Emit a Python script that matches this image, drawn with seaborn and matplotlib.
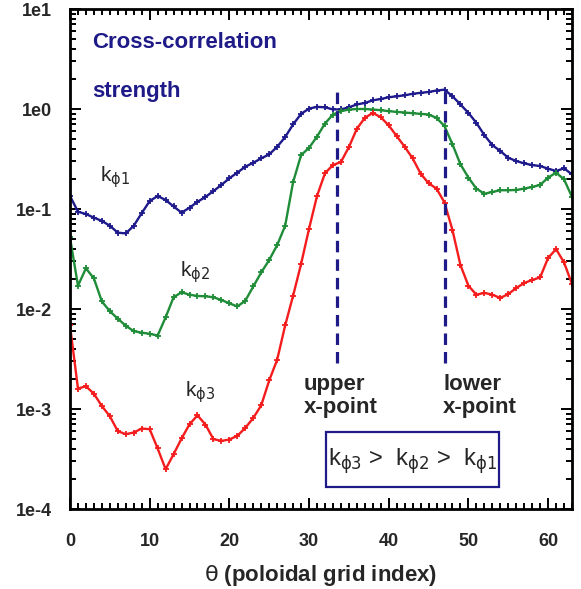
import numpy as np
import pandas as pd
import matplotlib
matplotlib.use("Agg")
import matplotlib.pyplot as plt
from matplotlib.patches import Rectangle
from matplotlib.ticker import LogLocator, FuncFormatter, MultipleLocator
import seaborn as sns

theta = list(range(64))

k_phi1 = [0.135, 0.094, 0.089, 0.082, 0.076, 0.068, 0.058, 0.057, 0.068, 0.091,
          0.12, 0.135, 0.123, 0.106, 0.092, 0.103, 0.118, 0.132, 0.151, 0.174,
          0.203, 0.231, 0.265, 0.290, 0.321, 0.352, 0.419, 0.524, 0.701, 0.894,
          1.01, 1.05, 1.04, 0.99, 0.99, 1.04, 1.11, 1.15, 1.22, 1.26,
          1.31, 1.34, 1.37, 1.42, 1.45, 1.48, 1.53, 1.56, 1.34, 1.11,
          0.914, 0.727, 0.548, 0.436, 0.380, 0.325, 0.302, 0.286, 0.275, 0.269,
          0.253, 0.240, 0.255, 0.222]

k_phi2 = [0.0519, 0.0171, 0.0255, 0.0202, 0.0119, 0.0095, 0.0080, 0.0068, 0.0060, 0.0058,
          0.00565, 0.00543, 0.00826, 0.0131, 0.0147, 0.0139, 0.0135, 0.0134, 0.0131, 0.0123,
          0.0114, 0.0106, 0.0121, 0.0168, 0.0232, 0.0309, 0.0436, 0.0679, 0.186, 0.346,
          0.409, 0.53, 0.716, 0.881, 0.951, 0.988, 1.0, 1.0, 0.988, 0.973,
          0.951, 0.936, 0.922, 0.908, 0.894, 0.881, 0.815, 0.674, 0.443, 0.280,
          0.206, 0.160, 0.142, 0.148, 0.154, 0.154, 0.155, 0.160, 0.166, 0.174,
          0.206, 0.231, 0.198, 0.132]

k_phi3 = [0.00684, 0.00160, 0.00169, 0.00142, 0.00107, 0.000846, 0.000600, 0.000560, 0.000582, 0.000638,
          0.000628, 0.000403, 0.000250, 0.000353, 0.000507, 0.000703, 0.000865, 0.000698, 0.000499, 0.000480,
          0.000495, 0.000539, 0.000647, 0.000813, 0.00109, 0.00193, 0.00311, 0.00684, 0.0136, 0.0282,
          0.0635, 0.135, 0.228, 0.275, 0.295, 0.416, 0.634, 0.815, 0.914, 0.828,
          0.685, 0.536, 0.419, 0.321, 0.226, 0.181, 0.160, 0.116, 0.0615, 0.0275,
          0.0171, 0.0139, 0.0145, 0.0139, 0.0129, 0.0141, 0.0162, 0.0182, 0.0195, 0.0207,
          0.0324, 0.0397, 0.0292, 0.0178]

series_names = ["k1", "k2", "k3"]
xpoint_positions = [33.5, 47]
y_tick_values = [1e-4, 1e-3, 1e-2, 1e-1, 1e0, 1e1]
x_tick_values = [0, 10, 20, 30, 40, 50, 60]

df = pd.DataFrame({
    "theta": theta * 3,
    "value": k_phi1 + k_phi2 + k_phi3,
    "series": [n for n in series_names for _ in theta],
})

sns.set_style("ticks")
plt.rcParams["font.family"] = ["Liberation Sans", "DejaVu Sans"]

NAVY = "#1e1a88"
palette = {"k1": "#1e1a8c", "k2": "#1f8c38", "k3": "#f41c1c"}

fig = plt.figure(figsize=(5.81, 5.89), dpi=100)
ax = fig.add_axes([70 / 581, 1 - 509 / 589, 502 / 581, 500 / 589])

sns.lineplot(data=df, x="theta", y="value", hue="series", hue_order=series_names,
             palette=palette, marker="+", markersize=4, linewidth=1.7,
             legend=False, ax=ax)
for line in ax.lines:
    line.set_markeredgecolor(line.get_color())
    line.set_markeredgewidth(1.3)

ax.set_yscale("log")
ax.set_xlim(0, 63)
ax.set_ylim(1e-4, 1e1)

ax.vlines(xpoint_positions, 0.00286, 1.69, colors=NAVY, linewidth=2.3,
          linestyles=(0, (3.6, 2.2)))

# ticks
ax.xaxis.set_minor_locator(MultipleLocator(1))
ax.set_xticks(x_tick_values)
ax.yaxis.set_minor_locator(LogLocator(base=10, subs=np.arange(2, 10)))
ax.set_yticks(y_tick_values)
ax.yaxis.set_major_formatter(FuncFormatter(lambda v, p: f"1e{int(round(np.log10(v)))}"))
ax.tick_params(which="both", direction="in", top=True, right=True, width=1.4, color="black")
ax.tick_params(which="major", length=8)
ax.tick_params(which="minor", length=4)
ax.tick_params(axis="x", which="major", pad=17, labelsize=13)
ax.tick_params(axis="y", which="major", pad=13, labelsize=13)
for lab in ax.get_xticklabels() + ax.get_yticklabels():
    lab.set_fontweight("bold")
for s in ax.spines.values():
    s.set_linewidth(2)
    s.set_color("black")

ax.set_xlabel(r"$\mathrm{\theta}$ (poloidal grid index)", fontsize=16, fontweight="bold", labelpad=10)
ax.set_ylabel("")

# annotations
ax.text(0.044, 0.932, "Cross-correlation", transform=ax.transAxes, color=NAVY,
        fontsize=16, fontweight="bold", va="center", ha="left")
ax.text(0.044, 0.834, "strength", transform=ax.transAxes, color=NAVY,
        fontsize=16, fontweight="bold", va="center", ha="left")

ax.text(0.059, 0.656, r"k$_{\mathrm{\phi 1}}$", transform=ax.transAxes, fontsize=15, va="baseline")
ax.text(0.219, 0.4646, r"k$_{\mathrm{\phi 2}}$", transform=ax.transAxes, fontsize=15, va="baseline")
ax.text(0.230, 0.226, r"k$_{\mathrm{\phi 3}}$", transform=ax.transAxes, fontsize=15, va="baseline")

for xf in (0.466, 0.7436):
    pass
ax.text(0.466, 0.238, "upper", transform=ax.transAxes, fontsize=16,
        fontweight="bold", va="baseline", ha="left")
ax.text(0.466, 0.192, "x-point", transform=ax.transAxes, fontsize=16,
        fontweight="bold", va="baseline", ha="left")
ax.text(0.7436, 0.238, "lower", transform=ax.transAxes, fontsize=16,
        fontweight="bold", va="baseline", ha="left")
ax.text(0.7436, 0.192, "x-point", transform=ax.transAxes, fontsize=16,
        fontweight="bold", va="baseline", ha="left")

ax.add_patch(Rectangle((0.51, 0.0446), 0.345, 0.110, transform=ax.transAxes,
                       fill=False, edgecolor=NAVY, linewidth=1.6))
ax.text(0.6825, 0.086, r"k$_{\mathrm{\phi 3}}$ >  k$_{\mathrm{\phi 2}}$ >  k$_{\mathrm{\phi 1}}$",
        transform=ax.transAxes, fontsize=17, va="baseline", ha="center")

fig.savefig("out.png", dpi=100)
